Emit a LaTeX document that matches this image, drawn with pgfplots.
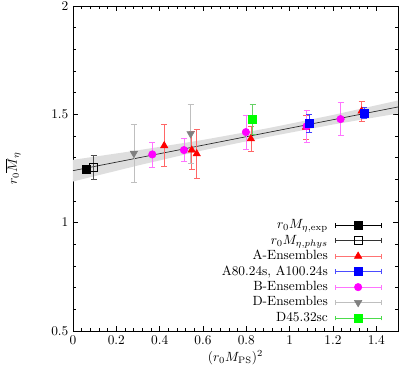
\documentclass[border=0pt]{standalone}
\usepackage{pgfplots}
\pgfplotsset{compat=1.18}
\usepgfplotslibrary{fillbetween}

\definecolor{gpred}{RGB}{255,0,0}
\definecolor{gpblue}{RGB}{0,0,255}
\definecolor{gpmag}{RGB}{255,0,255}
\definecolor{gpgray}{RGB}{128,128,128}
\definecolor{gpgreen}{RGB}{0,255,0}

% legend sample: error bar line with caps and the marker in the middle
\pgfplotsset{
  ebleg/.style={legend image code/.code={
      \draw[mark=none,##1] (0pt,0pt) -- (34pt,0pt);
      \draw[mark=none,##1] (0pt,-1.8pt) -- (0pt,1.8pt);
      \draw[mark=none,##1] (34pt,-1.8pt) -- (34pt,1.8pt);
      \draw[##1,only marks] plot coordinates {(17pt,0pt)};
  }},
  ebar/.style={error bars/.cd, y dir=both, y explicit,
    error bar style={#1, line width=0.5pt},
    error mark options={#1, rotate=90, mark size=2.2pt, line width=0.5pt}},
}

\begin{document}
\begin{tikzpicture}
\begin{axis}[
  scale only axis,
  width=243.75pt, height=243.75pt,
  xmin=0, xmax=1.5, ymin=0.5, ymax=2,
  xtick={0,0.2,0.4,0.6,0.8,1,1.2,1.4},
  ytick={0.5,1,1.5,2},
  minor x tick num=4, minor y tick num=4,
  axis line style={line width=0.6pt},
  tick style={black, line width=0.5pt},
  major tick length=4pt, minor tick length=2pt,
  xlabel={$(r_0M_{\mathrm{PS}})^2$},
  ylabel={$r_0\overline{M}_\eta$},
  every axis x label/.style={at={(axis description cs:0.5,-0.082)}, anchor=center},
  every axis y label/.style={at={(axis description cs:-0.185,0.5)}, anchor=center, rotate=90},
  legend plot pos=right,
  legend cell align=right,
  legend style={draw=none, fill=none, inner sep=0pt,
    at={(rel axis cs:1,0)}, anchor=south east, xshift=-12.5pt, yshift=4pt,
    column sep=4.5pt, row sep=0.6pt,
    nodes={inner sep=1pt, text height=7pt, text depth=2pt}},
]
% fit band and line
\addplot[name path=up, draw=none, forget plot] coordinates {(0,1.290) (0.3,1.334) (0.6,1.382) (0.9,1.436) (1.2,1.497) (1.5,1.564)};
\addplot[name path=lo, draw=none, forget plot] coordinates {(0,1.190) (0.3,1.264) (0.6,1.334) (0.9,1.396) (1.2,1.453) (1.5,1.504)};
\addplot[fill=black!13, draw=none, forget plot] fill between[of=up and lo];
\addplot[black!85, line width=0.5pt, forget plot] coordinates {(0,1.240) (1.5,1.534)};

% data
\addplot[forget plot, only marks, mark=triangle*, mark size=3.2pt, mark options={fill=gpred, draw=gpred}, ebar=gpred!60]
  coordinates {(0.421,1.355) +- (0,0.097) (0.548,1.335) +- (0,0.088) (0.571,1.318) +- (0,0.115)
               (0.821,1.387) +- (0,0.056) (1.075,1.440) +- (0,0.055) (1.332,1.515) +- (0,0.045)};
\addplot[forget plot, only marks, mark=triangle*, mark size=3.2pt, mark options={fill=gpgray, draw=gpgray, rotate=180}, ebar=black!25]
  coordinates {(0.281,1.320) +- (0,0.132) (0.543,1.410) +- (0,0.134)};
\addplot[forget plot, only marks, mark=*, mark size=2.8pt, mark options={fill=gpmag, draw=gpmag}, ebar=gpmag!55]
  coordinates {(0.366,1.315) +- (0,0.058) (0.512,1.335) +- (0,0.052) (0.798,1.418) +- (0,0.079)
               (1.078,1.445) +- (0,0.072) (1.235,1.478) +- (0,0.076)};
\addplot[forget plot, only marks, mark=square*, mark size=3pt, mark options={fill=gpblue, draw=gpblue}, ebar=gpblue!75]
  coordinates {(1.091,1.457) +- (0,0.042) (1.344,1.507) +- (0,0.025)};
\addplot[forget plot, only marks, mark=square*, mark size=3pt, mark options={fill=gpgreen, draw=gpgreen}, ebar=gpgreen!70!black!60!white]
  coordinates {(0.829,1.478) +- (0,0.068)};
\addplot[forget plot, only marks, mark=square, mark size=3pt, mark options={draw=black, fill=white}, ebar=black!70]
  coordinates {(0.095,1.254) +- (0,0.055)};
\addplot[forget plot, only marks, mark=square*, mark size=3pt, mark options={fill=black, draw=black}]
  coordinates {(0.060,1.248)};

% legend entries
\addlegendimage{ebleg, black, mark=square*, mark size=3pt, mark options={fill=black,draw=black}}
\addlegendentry{$r_0M_{\eta,\mathrm{exp}}$}
\addlegendimage{ebleg, black!80, mark=square, mark size=3pt, mark options={fill=white,draw=black}}
\addlegendentry{$r_0M_{\eta,phys}$}
\addlegendimage{ebleg, gpred!55, mark=triangle*, mark size=3.2pt, mark options={fill=gpred,draw=gpred}}
\addlegendentry{A-Ensembles}
\addlegendimage{ebleg, gpblue!70, mark=square*, mark size=3pt, mark options={fill=gpblue,draw=gpblue}}
\addlegendentry{A80.24s, A100.24s}
\addlegendimage{ebleg, gpmag!55, mark=*, mark size=2.8pt, mark options={fill=gpmag,draw=gpmag}}
\addlegendentry{B-Ensembles}
\addlegendimage{ebleg, black!25, mark=triangle*, mark size=3.2pt, mark options={fill=gpgray,draw=gpgray,rotate=180}}
\addlegendentry{D-Ensembles}
\addlegendimage{ebleg, gpgreen!80!black!70!white, mark=square*, mark size=3pt, mark options={fill=gpgreen,draw=gpgreen}}
\addlegendentry{D45.32sc}
\end{axis}
\pgfresetboundingbox
\path[use as bounding box] ([shift={(-54.75pt,-36pt)}]current axis.south west) rectangle ([shift={(0.75pt,4.5pt)}]current axis.north east);
\end{tikzpicture}
\end{document}
